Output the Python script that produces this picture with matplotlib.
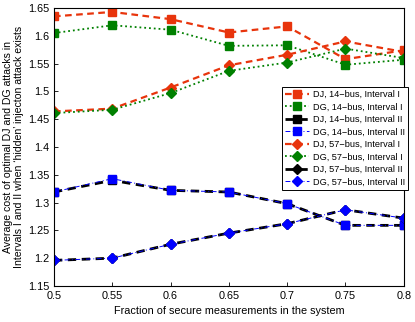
import matplotlib
matplotlib.use('Agg')
import matplotlib.pyplot as plt

plt.rcParams['font.family'] = ['Liberation Sans', 'DejaVu Sans']

# Data
frac = [0.5, 0.55, 0.6, 0.65, 0.7, 0.75, 0.8]
dj14_I = [1.635, 1.643, 1.630, 1.606, 1.617, 1.558, 1.574]
dg14_I = [1.605, 1.619, 1.611, 1.582, 1.583, 1.548, 1.557]
dj14_II = [1.319, 1.340, 1.322, 1.319, 1.298, 1.259, 1.259]
dg14_II = [1.319, 1.343, 1.322, 1.319, 1.298, 1.259, 1.259]
dj57_I = [1.464, 1.469, 1.507, 1.547, 1.566, 1.590, 1.571]
dg57_I = [1.461, 1.467, 1.497, 1.537, 1.552, 1.577, 1.560]
dj57_II = [1.196, 1.200, 1.225, 1.245, 1.262, 1.287, 1.272]
dg57_II = [1.196, 1.200, 1.225, 1.245, 1.262, 1.287, 1.272]

red = '#e8340c'
green = '#008000'
blue = '#0000ff'

fig = plt.figure(figsize=(4.15, 3.22), dpi=100)
ax = fig.add_axes([0.130, 0.112, 0.843, 0.863])

ms = 5.5
dash = (3, 2)
dashdot = (5, 2.5, 1, 2.5)
ax.plot(frac, dj14_I, '--', color=red, marker='s', ms=ms, lw=1.6, dashes=dash, label='DJ, 14\u2212bus, Interval I')
ax.plot(frac, dg14_I, ':', color=green, marker='s', ms=ms, lw=1.3, label='DG, 14\u2212bus, Interval I')
ax.plot(frac, dj14_II, '--', color='black', marker='s', ms=ms, lw=2.0, dashes=dash, label='DJ, 14\u2212bus, Interval II')
ax.plot(frac, dg14_II, '-.', color=blue, marker='s', ms=ms, lw=0.7, dashes=dashdot, label='DG, 14\u2212bus, Interval II')
ax.plot(frac, dj57_I, '--', color=red, marker='D', ms=ms, lw=1.6, dashes=dash, label='DJ, 57\u2212bus, Interval I')
ax.plot(frac, dg57_I, ':', color=green, marker='D', ms=ms, lw=1.3, label='DG, 57\u2212bus, Interval I')
ax.plot(frac, dj57_II, '--', color='black', marker='D', ms=ms, lw=2.0, dashes=dash, label='DJ, 57\u2212bus, Interval II')
ax.plot(frac, dg57_II, '-.', color=blue, marker='D', ms=ms, lw=0.7, dashes=dashdot, label='DG, 57\u2212bus, Interval II')

ax.set_xlim(0.5, 0.8)
ax.set_ylim(1.15, 1.65)
ax.set_xticks(frac)
ax.set_xticklabels(['0.5', '0.55', '0.6', '0.65', '0.7', '0.75', '0.8'])
ax.set_yticks([1.15, 1.2, 1.25, 1.3, 1.35, 1.4, 1.45, 1.5, 1.55, 1.6, 1.65])
ax.set_yticklabels(['1.15', '1.2', '1.25', '1.3', '1.35', '1.4', '1.45', '1.5', '1.55', '1.6', '1.65'])
ax.tick_params(direction='in', labelsize=7.8, length=3, width=0.6)
for s in ax.spines.values():
    s.set_linewidth(0.8)

ax.set_xlabel('Fraction of secure measurements in the system', fontsize=7.8)
ax.set_ylabel("Average cost of optimal DJ and DG attacks in\nIntervals I and II when \u2018hidden\u2019 injecton attack exists",
              fontsize=7.6, linespacing=1.1, labelpad=3)

leg = ax.legend(loc='upper right', bbox_to_anchor=(0.983, 0.730), bbox_transform=fig.transFigure,
                fontsize=6.6, fancybox=False, edgecolor='black', framealpha=1, borderaxespad=0,
                handlelength=2.6, handletextpad=0.4, labelspacing=0.38, borderpad=0.35)
leg.get_frame().set_linewidth(0.7)

fig.savefig('out.png', dpi=100)
